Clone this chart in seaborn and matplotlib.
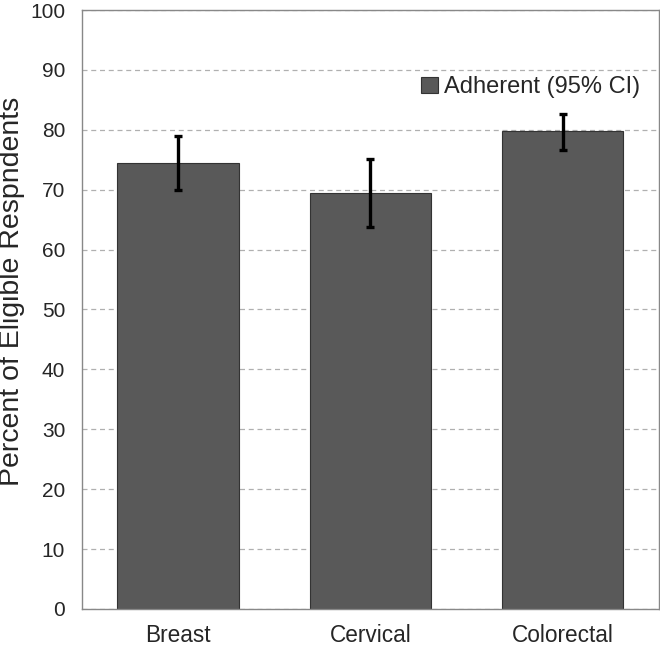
import seaborn as sns
import matplotlib.pyplot as plt
import pandas as pd
import numpy as np
from matplotlib.patches import Patch

# values
sites = ["Breast", "Cervical", "Colorectal"]
adherent = [74.5, 69.4, 79.8]
ci_low = [70.0, 63.7, 76.7]
ci_high = [78.9, 75.1, 82.6]

df = pd.DataFrame({"Site": sites, "Adherent": adherent,
                   "Low": ci_low, "High": ci_high})

sns.set_style("white")
plt.rcParams["font.family"] = ["Liberation Sans", "DejaVu Sans"]

fig = plt.figure(figsize=(6.6, 6.46), dpi=100)
ax = fig.add_axes([0.124, 0.0573, 0.8745, 0.9272])

bar_color = "#595959"
sns.barplot(data=df, x="Site", y="Adherent", color=bar_color,
            width=0.63, errorbar=None, edgecolor="#333333",
            linewidth=0.8, saturation=1, ax=ax, zorder=2)

# confidence intervals
xpos = np.arange(len(sites))
yerr = [df["Adherent"] - df["Low"], df["High"] - df["Adherent"]]
ax.errorbar(xpos, df["Adherent"], yerr=yerr, fmt="none", ecolor="black",
            elinewidth=2.4, capsize=2.6, capthick=2.4, zorder=3)

ax.set_ylim(0, 100)
ax.set_yticks(range(0, 101, 10))
ax.set_xlim(-0.5, 2.5)
ax.yaxis.grid(True, linestyle=(0, (4, 3)), color="#b0b0b0", linewidth=0.9)
ax.set_axisbelow(True)

for side in ["left", "bottom", "top", "right"]:
    ax.spines[side].set_visible(True)
    ax.spines[side].set_color("#888888")
    ax.spines[side].set_linewidth(1.0)

ax.set_xlabel("")
ax.set_ylabel("Percent of Eligible Respndents", fontsize=20.5)
ax.yaxis.set_label_coords(-0.099, 0.531)
ax.tick_params(axis="y", labelsize=15, length=0, pad=12)
ax.tick_params(axis="x", labelsize=16.3, length=0, pad=11)

handle = Patch(facecolor=bar_color, edgecolor="#333333", linewidth=0.8)
ax.legend([handle], ["Adherent (95% CI)"], loc="center right",
          bbox_to_anchor=(0.967, 0.871), frameon=False, fontsize=17,
          handlelength=0.7, handleheight=0.7, handletextpad=0.25,
          borderaxespad=0, borderpad=0)

plt.savefig("out.png", dpi=100)
plt.close()
